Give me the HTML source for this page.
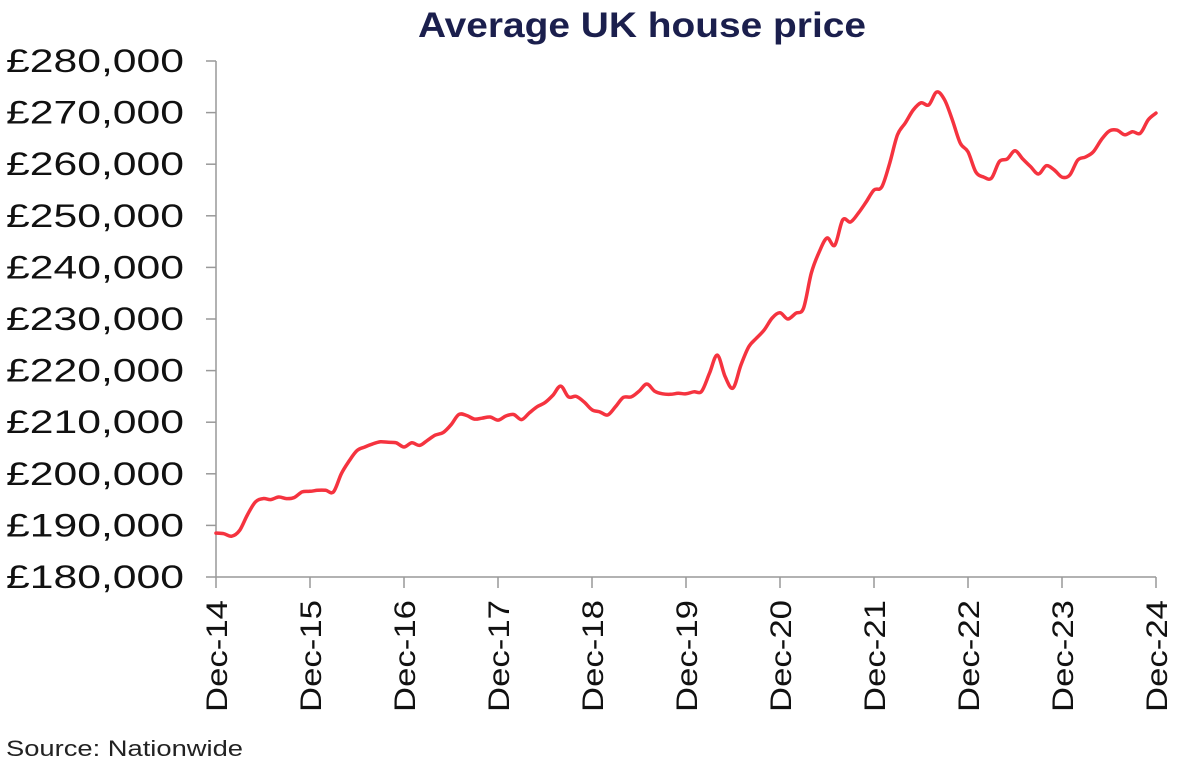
<!DOCTYPE html>
<html><head><meta charset="utf-8"><style>
html,body{margin:0;padding:0;background:#fff;}
svg{display:block;font-family:"Liberation Sans",sans-serif;}
</style></head><body>
<svg id="chart" width="1185" height="766">
<text x="418" y="37" textLength="448" lengthAdjust="spacingAndGlyphs" font-size="35" font-weight="bold" fill="#1b1f4d">Average UK house price</text>
<g id="yaxis"></g>
<g id="xaxis"></g>
<g id="plot"></g>
<text x="6" y="756" textLength="237" lengthAdjust="spacingAndGlyphs" font-size="22" fill="#222">Source: Nationwide</text>
</svg>
<script>
const yTicks=[180000,190000,200000,210000,220000,230000,240000,250000,260000,270000,280000];
const xLabels=["Dec-14","Dec-15","Dec-16","Dec-17","Dec-18","Dec-19","Dec-20","Dec-21","Dec-22","Dec-23","Dec-24"];
const prices=[
188.5,188.4,187.9,189,192,194.5,195.2,195,195.5,195.2,195.4,196.5,196.6,
196.8,196.8,196.5,200,202.5,204.5,205.2,205.8,206.2,206.1,206,205.2,
206,205.5,206.5,207.5,208,209.5,211.5,211.3,210.6,210.8,211,210.4,
211.2,211.5,210.5,211.8,213,213.8,215.2,217,214.9,215,213.9,212.4,
212,211.4,213,214.8,214.9,216,217.4,216,215.5,215.4,215.6,215.5,
215.9,216,219.5,223,218.8,216.6,221,224.6,226.3,227.9,230.2,231.2,
230,231.1,232.1,238.9,243,245.7,244.3,249.2,248.8,250.5,252.7,255,
255.6,260.2,265.7,268,270.5,271.9,271.5,274,272.5,268.6,264.1,262.4,
258.5,257.5,257.3,260.5,261,262.6,261,259.5,258.1,259.7,258.9,257.5,
257.9,260.8,261.4,262.4,264.7,266.4,266.6,265.7,266.3,266,268.6,269.9];
const NS="http://www.w3.org/2000/svg";
const x0=216,x1=1156,yb=577,yt=61;
function xScale(i){return x0+(x1-x0)*i/(prices.length-1);}
function yScale(v){return yb-(v-180000)/(100000)*(yb-yt);}
function mk(tag,attrs,parent){const e=document.createElementNS(NS,tag);for(const k in attrs)e.setAttribute(k,attrs[k]);parent.appendChild(e);return e;}
const ya=document.getElementById('yaxis'),xa=document.getElementById('xaxis'),pl=document.getElementById('plot');
mk('line',{x1:x0,y1:yt,x2:x0,y2:yb,stroke:'#999','stroke-width':1.5},ya);
yTicks.forEach(v=>{
  const y=yScale(v);
  const t=mk('line',{x1:x0-10,y1:y,x2:x0,y2:y,stroke:'#999','stroke-width':1.5},ya);
  
  
  const l=mk('text',{x:184,y:y+11,'text-anchor':'end','font-size':32,fill:'#111',textLength:178,lengthAdjust:'spacingAndGlyphs'},ya);
  l.textContent='£'+v.toLocaleString('en-GB');
  
  
});
mk('line',{x1:x0,y1:yb,x2:x1,y2:yb,stroke:'#999','stroke-width':1.5},xa);
xLabels.forEach((s,k)=>{
  const x=x0+(x1-x0)*k/(xLabels.length-1);
  const t=mk('line',{x1:x,y1:yb,x2:x,y2:yb+11,stroke:'#999','stroke-width':1.5},xa);
  
  
  const l=mk('text',{x:0,y:0,'text-anchor':'end','font-size':30,fill:'#111',textLength:112,lengthAdjust:'spacingAndGlyphs',transform:`translate(${x+11},${yb+23}) rotate(-90)`},xa);
  l.textContent=s;
  
  
});
const pts=prices.map((v,i)=>[xScale(i),yScale(v*1000)]);
let d='M'+pts[0][0].toFixed(1)+','+pts[0][1].toFixed(1);
for(let i=0;i<pts.length-1;i++){
  const p0=pts[Math.max(0,i-1)],p1=pts[i],p2=pts[i+1],p3=pts[Math.min(pts.length-1,i+2)];
  const c1=[p1[0]+(p2[0]-p0[0])/6,p1[1]+(p2[1]-p0[1])/6];
  const c2=[p2[0]-(p3[0]-p1[0])/6,p2[1]-(p3[1]-p1[1])/6];
  d+=` C${c1[0].toFixed(1)},${c1[1].toFixed(1)} ${c2[0].toFixed(1)},${c2[1].toFixed(1)} ${p2[0].toFixed(1)},${p2[1].toFixed(1)}`;
}
const p=mk('path',{d:d,fill:'none',stroke:'#f5333f','stroke-width':3.5,'stroke-linejoin':'round','stroke-linecap':'round'},pl);


</script>
</body></html>
